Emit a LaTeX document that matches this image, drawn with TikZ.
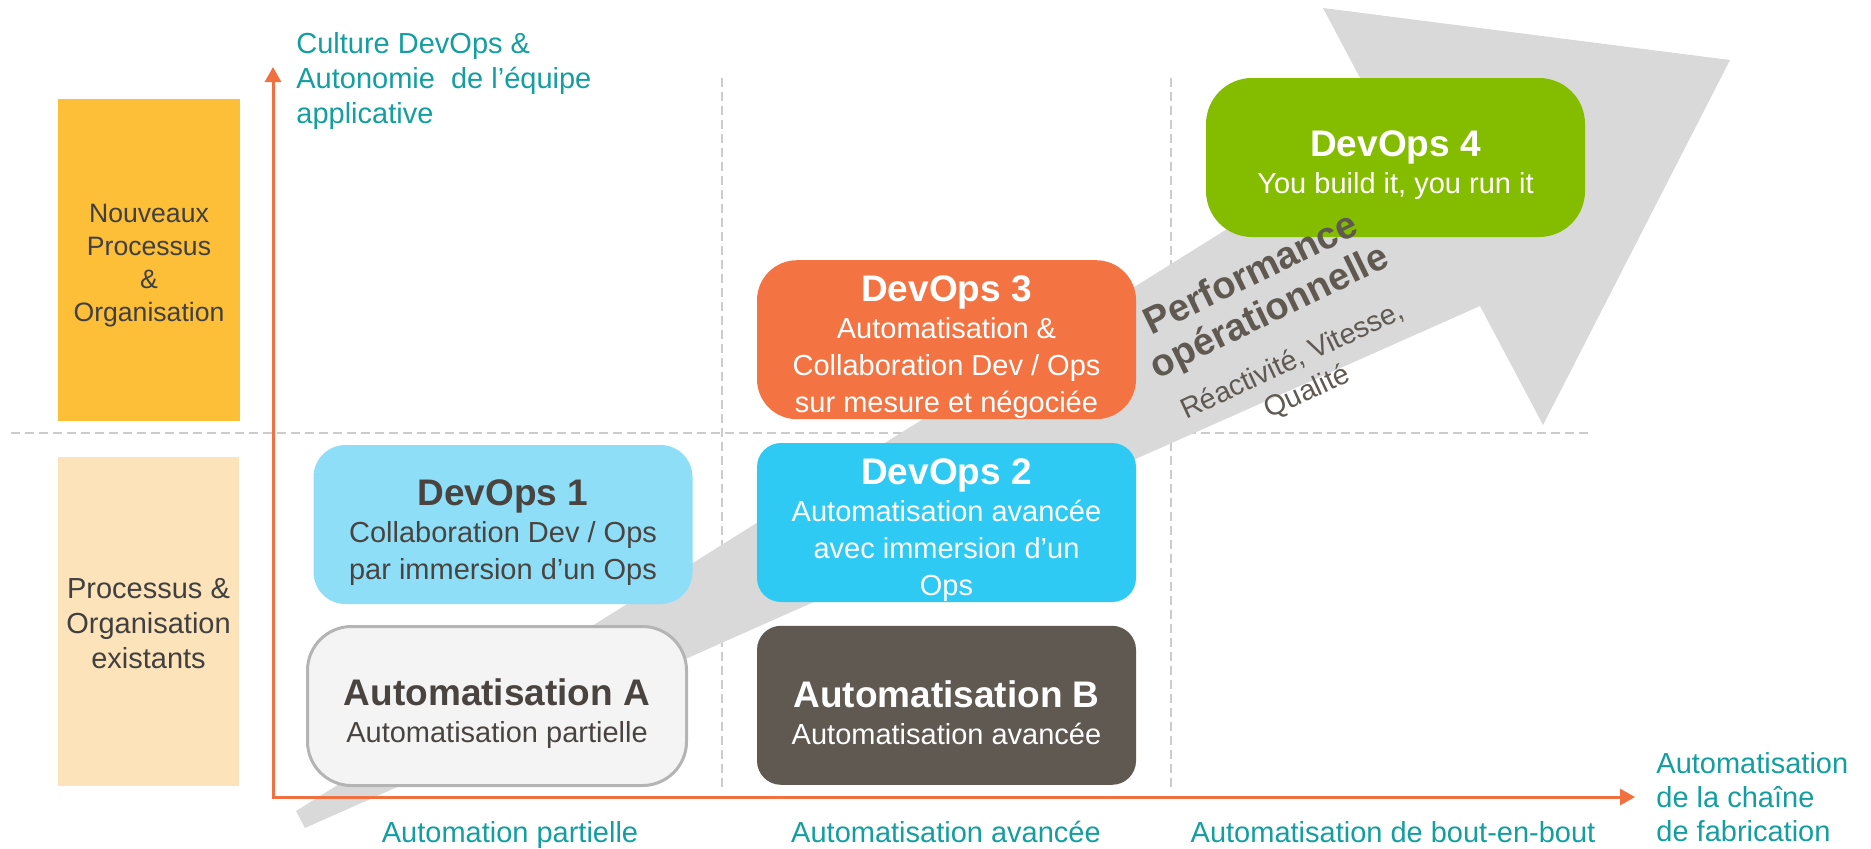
\documentclass[tikz,border=0pt]{standalone}
\usepackage{fontspec}
\setmainfont{Liberation Sans}
\usepackage{tikz}
\usetikzlibrary{positioning,arrows.meta}

\definecolor{axisorange}{RGB}{240,112,64}
\definecolor{labelteal}{RGB}{20,158,160}
\definecolor{gridgray}{RGB}{204,204,204}
\definecolor{arrowgray}{RGB}{217,217,217}
\definecolor{darktext}{RGB}{74,68,64}
\definecolor{rowtext}{RGB}{64,64,64}
\definecolor{slogantext}{RGB}{95,89,82}
\definecolor{newproc}{RGB}{253,190,56}
\definecolor{oldproc}{RGB}{253,227,185}
\definecolor{devopsone}{RGB}{142,222,248}
\definecolor{devopstwo}{RGB}{46,202,244}
\definecolor{devopsthree}{RGB}{243,116,66}
\definecolor{devopsfour}{RGB}{132,189,0}
\definecolor{autoafill}{RGB}{244,244,244}
\definecolor{autoaborder}{RGB}{180,180,180}
\definecolor{autobfill}{RGB}{95,89,82}

\newcommand{\bodyfont}{\fontsize{14.5bp}{18.5bp}\selectfont}
\newcommand{\titlefont}{\fontsize{18.5bp}{18.5bp}\selectfont\bfseries}
\newcommand{\stagetitle}[1]{\rule{0pt}{20.5bp}{\titlefont #1}}

\begin{document}
\begin{tikzpicture}
    [x=0.5bp, y=-0.5bp,
     stage/.style={rectangle, rounded corners=12bp, minimum width=189.5bp, minimum height=79.5bp,
                   inner sep=0pt, align=center, font=\bodyfont, text=white},
     rowbox/.style={rectangle, inner sep=0pt, align=center, text=rowtext},
     axislabel/.style={inner sep=0pt, text=labelteal, font=\bodyfont},
     slogan/.style={inner sep=0pt, align=center, text=slogantext},
     gridline/.style={draw=gridgray, line width=0.75bp, dash pattern=on 4.5bp off 2.5bp},
     axisline/.style={draw=axisorange, line width=1.5bp, line join=miter,
                      >={Triangle[width=8bp,length=7.5bp]}, <->}]

    \useasboundingbox (0,0) rectangle (1871,848);

    \draw[gridline] (11,433) -- (1590,433);
    \draw[gridline] (722,78) -- (722,788);
    \draw[gridline] (1171,78) -- (1171,788);

    \fill[arrowgray] (296,811) -- (1387,129) -- (1323,8) -- (1730,60)
      -- (1543,425) -- (1480,306) -- (305,828) -- cycle;

    \coordinate (ytip) at (273,67);
    \coordinate (xtip) at (1635,797);
    \draw[axisline] (ytip) |- (xtip);

    \node[rowbox, fill=newproc, minimum width=91bp, minimum height=161bp,
          font=\fontsize{13.3bp}{16.5bp}\selectfont] (newproc) at (149,260)
      {\rule{0pt}{14.5bp}Nouveaux\\Processus\\\&\\Organisation};
    \node[rowbox, fill=oldproc, minimum width=90.5bp, minimum height=164.5bp,
          font=\fontsize{14.5bp}{17.5bp}\selectfont] (oldproc) at (148.5,621.5)
      {\rule{0pt}{12.5bp}Processus \&\\Organisation\\existants};

    \node[stage, fill=devopstwo] (devops2) at (946.5,522.5)
      {\stagetitle{DevOps 2}\\Automatisation avancée\\avec immersion d’un\\Ops};
    \node[stage, fill=autobfill] (autob) [below=11.5bp of devops2]
      {\stagetitle{Automatisation B}\\Automatisation avancée};
    \node[stage, fill=devopsthree, rounded corners=20bp] (devops3) [above=11.5bp of devops2]
      {\stagetitle{DevOps 3}\\Automatisation \&\\Collaboration Dev / Ops\\sur mesure et négociée};
    \node[stage, fill=devopsone, text=darktext, rounded corners=16bp] (devops1) at (503,524.5)
      {\stagetitle{DevOps 1}\\Collaboration Dev / Ops\\par immersion d’un Ops};
    \node[stage, fill=autoafill, draw=autoaborder, line width=1.5bp, text=darktext,
          rounded corners=22bp] (autoa) at (497,706)
      {\stagetitle{Automatisation A}\\Automatisation partielle};
    \node[stage, fill=devopsfour, rounded corners=23bp] (devops4) at (1395.5,157.5)
      {\stagetitle{DevOps 4}\\You build it, you run it};

    \node[slogan, font=\fontsize{19bp}{21bp}\selectfont\bfseries, rotate=26] (perf) at (1261,294.5)
      {Performance\\opérationnelle};
    \node[slogan, font=\fontsize{14.3bp}{17.25bp}\selectfont, rotate=25] (perfsub) at (1300,377)
      {Réactivité, Vitesse,\\Qualité};

    \node[axislabel, anchor=north west, align=left, font=\fontsize{14.5bp}{17.5bp}\selectfont]
      (ylabel) at (296,32) {Culture DevOps \&\\Autonomie~ de l’équipe\\applicative};
    \node[axislabel, anchor=north west, align=left, font=\fontsize{14.5bp}{17bp}\selectfont]
      (xlabel) at (1656,752) {Automatisation\\de la chaîne\\de fabrication};
    \node[axislabel, anchor=base] (col1) at (510,842) {Automation partielle};
    \node[axislabel, anchor=base] (col2) at (946,842) {Automatisation avancée};
    \node[axislabel, anchor=base] (col3) at (1393,842) {Automatisation de bout-en-bout};
\end{tikzpicture}
\end{document}
